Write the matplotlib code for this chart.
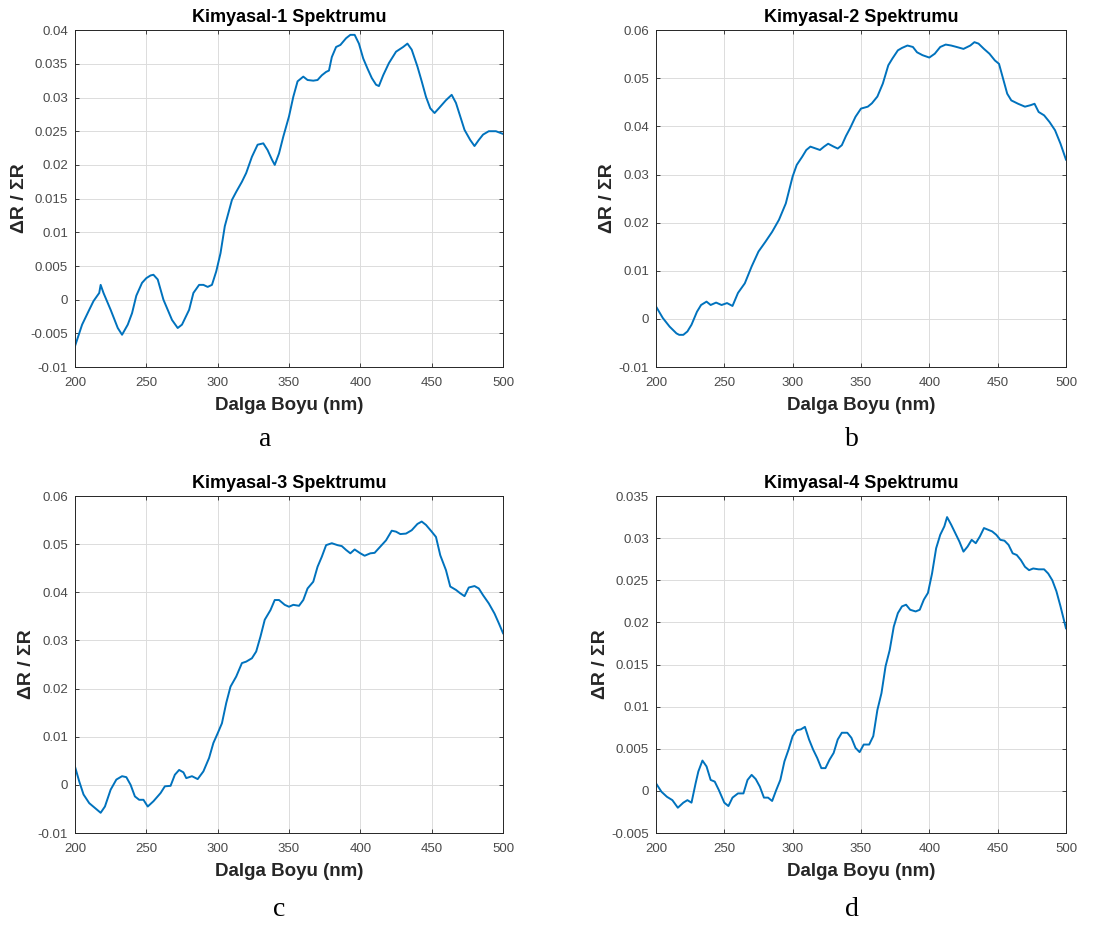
import numpy as np
import matplotlib
matplotlib.use("Agg")
import matplotlib.pyplot as plt
from matplotlib.ticker import FuncFormatter, MultipleLocator

plt.rcParams['font.family'] = ['Liberation Sans', 'DejaVu Sans']

# wavelength (nm) / signal pairs for each chemical
wl_1 = [200, 205, 210, 213, 217, 218, 220, 225, 230, 233, 237, 240, 243, 247, 250, 253, 255, 258,
        262, 265, 268, 272, 275, 280, 283, 287, 290, 293, 296, 299, 302, 305, 310, 313, 317, 320,
        324, 328, 332, 335, 338, 340, 343, 346, 350, 353, 356, 360, 363, 367, 370, 373, 376, 378,
        380, 383, 386, 390, 393, 396, 399, 402, 405, 408, 411, 413, 416, 420, 425, 430, 433, 436,
        440, 443, 446, 449, 452, 455, 460, 464, 467, 470, 473, 477, 480, 483, 486, 490, 495, 500]
sig_1 = [-0.0069, -0.0037, -0.0015, -0.0002, 0.0010, 0.0022, 0.0010, -0.0015, -0.0042, -0.0052,
         -0.0037, -0.0020, 0.0006, 0.0025, 0.0032, 0.0036, 0.0037, 0.0030, 0.0000, -0.0015,
         -0.0030, -0.0042, -0.0037, -0.0015, 0.0010, 0.0022, 0.0022, 0.0019, 0.0022, 0.0042,
         0.0069, 0.0109, 0.0148, 0.0160, 0.0175, 0.0188, 0.0212, 0.0230, 0.0232, 0.0222, 0.0208,
         0.0200, 0.0217, 0.0242, 0.0272, 0.0301, 0.0324, 0.0331, 0.0326, 0.0325, 0.0326, 0.0333,
         0.0338, 0.0340, 0.0360, 0.0375, 0.0378, 0.0388, 0.0393, 0.0393, 0.0380, 0.0358, 0.0343,
         0.0329, 0.0319, 0.0317, 0.0333, 0.0351, 0.0368, 0.0375, 0.0380, 0.0371, 0.0346, 0.0324,
         0.0301, 0.0284, 0.0277, 0.0284, 0.0296, 0.0304, 0.0292, 0.0272, 0.0252, 0.0237, 0.0228,
         0.0237, 0.0245, 0.0250, 0.0250, 0.0246]

wl_2 = [200, 205, 210, 215, 217, 220, 223, 226, 230, 233, 237, 240, 244, 248, 252, 256, 260, 265,
        270, 275, 280, 285, 290, 295, 300, 303, 307, 310, 313, 317, 320, 323, 326, 330, 333, 336,
        339, 342, 346, 350, 355, 358, 362, 366, 370, 373, 377, 380, 384, 388, 391, 395, 400, 404,
        408, 412, 416, 420, 425, 430, 433, 436, 440, 444, 448, 451, 454, 457, 460, 465, 470, 474,
        477, 480, 484, 488, 492, 496, 500]
sig_2 = [0.0026, 0.0002, -0.0016, -0.0030, -0.0033, -0.0033, -0.0026, -0.0012, 0.0015, 0.0029,
         0.0036, 0.0029, 0.0034, 0.0029, 0.0033, 0.0027, 0.0054, 0.0074, 0.0109, 0.0140, 0.0160,
         0.0181, 0.0206, 0.0240, 0.0296, 0.0320, 0.0337, 0.0351, 0.0358, 0.0354, 0.0351, 0.0358,
         0.0364, 0.0358, 0.0354, 0.0361, 0.0380, 0.0396, 0.0420, 0.0437, 0.0441, 0.0448, 0.0462,
         0.0489, 0.0527, 0.0541, 0.0558, 0.0563, 0.0568, 0.0565, 0.0554, 0.0548, 0.0543, 0.0551,
         0.0565, 0.0570, 0.0568, 0.0565, 0.0561, 0.0568, 0.0575, 0.0572, 0.0561, 0.0551, 0.0537,
         0.0530, 0.0499, 0.0468, 0.0454, 0.0447, 0.0441, 0.0444, 0.0447, 0.0430, 0.0423, 0.0409,
         0.0392, 0.0364, 0.0331]

wl_3 = [200, 203, 206, 210, 214, 218, 221, 225, 229, 233, 236, 239, 242, 245, 248, 251, 255, 260,
        263, 267, 270, 273, 276, 278, 282, 286, 290, 294, 297, 300, 303, 306, 309, 313, 317, 320,
        324, 327, 330, 333, 337, 340, 343, 347, 350, 353, 357, 360, 363, 367, 370, 373, 376, 380,
        384, 387, 390, 393, 396, 400, 403, 407, 410, 414, 418, 422, 425, 428, 432, 436, 440, 443,
        446, 450, 453, 456, 460, 463, 467, 470, 473, 476, 480, 483, 486, 490, 494, 497, 500]
sig_3 = [0.0038, 0.0007, -0.0020, -0.0038, -0.0048, -0.0058, -0.0045, -0.0010, 0.0011, 0.0018,
         0.0016, 0.0000, -0.0024, -0.0031, -0.0031, -0.0045, -0.0034, -0.0017, -0.0003, -0.0002,
         0.0021, 0.0031, 0.0026, 0.0014, 0.0018, 0.0012, 0.0028, 0.0056, 0.0087, 0.0107, 0.0128,
         0.0170, 0.0204, 0.0225, 0.0253, 0.0256, 0.0263, 0.0277, 0.0308, 0.0343, 0.0363, 0.0384,
         0.0384, 0.0374, 0.0370, 0.0374, 0.0372, 0.0384, 0.0408, 0.0422, 0.0453, 0.0474, 0.0498,
         0.0502, 0.0498, 0.0496, 0.0488, 0.0481, 0.0489, 0.0481, 0.0476, 0.0481, 0.0482, 0.0495,
         0.0508, 0.0528, 0.0526, 0.0521, 0.0522, 0.0529, 0.0542, 0.0547, 0.0540, 0.0526, 0.0515,
         0.0477, 0.0446, 0.0412, 0.0405, 0.0398, 0.0392, 0.0410, 0.0413, 0.0408, 0.0394, 0.0377,
         0.0356, 0.0336, 0.0315]

wl_4 = [200, 204, 208, 212, 216, 220, 223, 226, 229, 231, 234, 237, 240, 243, 246, 250, 253, 256,
        260, 264, 267, 270, 273, 276, 279, 282, 285, 288, 291, 294, 297, 300, 303, 306, 309, 312,
        315, 318, 321, 324, 327, 330, 333, 336, 340, 343, 346, 349, 352, 356, 359, 362, 365, 368,
        371, 374, 377, 380, 383, 386, 390, 393, 396, 399, 402, 405, 408, 411, 413, 416, 419, 422,
        425, 428, 431, 434, 437, 440, 443, 446, 449, 452, 455, 458, 461, 464, 467, 470, 473, 476,
        480, 484, 487, 490, 493, 496, 500]
sig_4 = [0.0009, -0.0001, -0.0007, -0.0011, -0.0020, -0.0014, -0.0011, -0.0014, 0.0009, 0.0023,
         0.0036, 0.0029, 0.0013, 0.0011, 0.0001, -0.0014, -0.0018, -0.0008, -0.0003, -0.0003,
         0.0013, 0.0019, 0.0014, 0.0005, -0.0008, -0.0008, -0.0012, 0.0001, 0.0013, 0.0035,
         0.0049, 0.0065, 0.0072, 0.0073, 0.0076, 0.0061, 0.0049, 0.0039, 0.0027, 0.0027, 0.0037,
         0.0045, 0.0061, 0.0069, 0.0069, 0.0063, 0.0051, 0.0046, 0.0055, 0.0055, 0.0065, 0.0096,
         0.0116, 0.0148, 0.0167, 0.0195, 0.0211, 0.0219, 0.0221, 0.0215, 0.0213, 0.0215, 0.0227,
         0.0235, 0.0258, 0.0288, 0.0304, 0.0314, 0.0325, 0.0316, 0.0306, 0.0296, 0.0284, 0.0290,
         0.0298, 0.0294, 0.0302, 0.0312, 0.0310, 0.0308, 0.0304, 0.0298, 0.0297, 0.0292, 0.0282,
         0.0280, 0.0274, 0.0266, 0.0262, 0.0264, 0.0263, 0.0263, 0.0258, 0.0250, 0.0237, 0.0219,
         0.0193]

titles = ['Kimyasal-1 Spektrumu', 'Kimyasal-2 Spektrumu', 'Kimyasal-3 Spektrumu', 'Kimyasal-4 Spektrumu']
panel_letters = ['a', 'b', 'c', 'd']
y_limits = [(-0.01, 0.04), (-0.01, 0.06), (-0.01, 0.06), (-0.005, 0.035)]
y_steps = [0.005, 0.01, 0.01, 0.005]

series = [(wl_1, sig_1), (wl_2, sig_2), (wl_3, sig_3), (wl_4, sig_4)]

# axes rectangles in figure fractions: [left, bottom, width, height]
rects = [[0.0676, 0.604, 0.386, 0.3635],
         [0.5915, 0.604, 0.3697, 0.3635],
         [0.0676, 0.1014, 0.386, 0.3635],
         [0.5915, 0.1014, 0.3697, 0.3635]]
letter_pos = [(265, 440), (852, 440), (279, 910), (852, 910)]

W, H = 1109, 927
fig = plt.figure(figsize=(W / 100, H / 100), dpi=100)

line_color = '#0072BD'
axis_color = '#262626'
label_color = '#4a4a4a'

fmt = FuncFormatter(lambda v, p: '0' if abs(v) < 1e-12 else ('%g' % round(v, 6)))

for i, (x, y) in enumerate(series):
    ax = fig.add_axes(rects[i])
    ax.plot(x, y, color=line_color, lw=1.4)
    ax.set_xlim(200, 500)
    ax.set_ylim(*y_limits[i])
    ax.xaxis.set_major_locator(MultipleLocator(50))
    ax.yaxis.set_major_locator(MultipleLocator(y_steps[i]))
    ax.yaxis.set_major_formatter(fmt)
    ax.grid(True, color='#dcdcdc', lw=0.7)
    ax.set_axisbelow(True)
    ax.tick_params(direction='in', top=True, right=True, length=3, width=0.6,
                   colors=axis_color, labelcolor=label_color, labelsize=9.5)
    ax.tick_params(axis='x', pad=7)
    ax.tick_params(axis='y', pad=5)
    for s in ax.spines.values():
        s.set_color(axis_color)
        s.set_linewidth(0.7)
    ax.set_title(titles[i], fontsize=13, fontweight='bold', color='black', pad=6)
    ax.set_xlabel('Dalga Boyu (nm)', fontsize=13.5, fontweight='bold', color='#262626', labelpad=6)
    ax.set_ylabel('ΔR / ΣR', fontsize=14, fontweight='bold', color='#262626', labelpad=2)
    lx, ly = letter_pos[i]
    fig.text(lx / W, 1 - ly / H, panel_letters[i], ha='center', va='center',
             fontsize=20, family='Liberation Serif', color='black')

fig.savefig('out.png', dpi=100, facecolor='white')
